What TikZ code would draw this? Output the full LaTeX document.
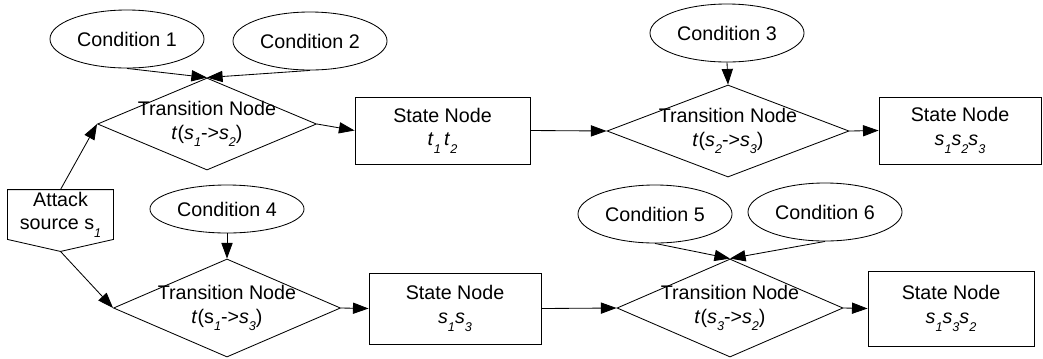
\documentclass[tikz,border=0pt]{standalone}
\usepackage{fontspec}
\setmainfont{Liberation Sans}
\usetikzlibrary{shapes,arrows.meta}
\newcommand{\sbs}[1]{\raisebox{-0.7ex}{\fontsize{9}{9}\selectfont\itshape #1}}

\begin{document}
\begin{tikzpicture}[x=0.025cm, y=-0.025cm, line width=0.6pt,
    font=\fontsize{14}{17}\selectfont,
    cond/.style={ellipse, draw, inner sep=0pt, minimum width=3.85cm, minimum height=1.45cm},
    trans/.style={diamond, draw, inner sep=0pt},
    state/.style={rectangle, draw, align=center, inner sep=0pt},
    txt/.style={align=center, inner sep=0pt},
    conn/.style={-{Triangle[length=3.9mm,width=2.8mm]}}]
\useasboundingbox (0,0) rectangle (1043,358);
% conditions
\node[cond] (c1) at (127,39) {Condition 1};
\node[cond] (c2) at (310,41) {Condition 2};
\node[cond] (c3) at (727,33) {Condition 3};
\node[cond, minimum height=1.2cm] (c4) at (227,209) {Condition 4};
\node[cond] (c5) at (655,214) {Condition 5};
\node[cond] (c6) at (825,212) {Condition 6};
% transition nodes
\node[trans, minimum width=5.475cm, minimum height=2.3cm] (t1) at (207,124) {};
\node[txt] (t1txt) at (t1) {Transition Node\\\textit{t}(\textit{s}\sbs{1}->\textit{s}\sbs{2})};
\node[trans, minimum width=6.05cm, minimum height=2.3cm] (t2) at (728,131) {};
\node[txt] (t2txt) at (t2) {Transition Node\\\textit{t}(\textit{s}\sbs{2}->\textit{s}\sbs{3})};
\node[trans, minimum width=5.675cm, minimum height=2.45cm] (t3) at (227,308) {};
\node[txt] (t3txt) at (t3) {Transition Node\\\textit{t}(s\sbs{1}->\textit{s}\sbs{3})};
\node[trans, minimum width=5.65cm, minimum height=2.45cm] (t4) at (730,308) {};
\node[txt] (t4txt) at (t4) {Transition Node\\\textit{t}(\textit{s}\sbs{3}->\textit{s}\sbs{2})};
% state nodes
\node[state, minimum width=4.375cm, minimum height=1.675cm] (s1) at (442.5,130.5) {State Node\\\textit{t}\sbs{1}\,\textit{t}\sbs{2}};
\node[state, minimum width=4.05cm, minimum height=1.675cm] (s2) at (960,130.5) {State Node\\\textit{s}\sbs{1}\textit{s}\sbs{2}\textit{s}\sbs{3}};
\node[state, minimum width=4.3cm, minimum height=1.775cm] (s3) at (455,308.5) {State Node\\\textit{s}\sbs{1}\textit{s}\sbs{3}};
\node[state, minimum width=4.15cm, minimum height=1.875cm] (s4) at (951,308.5) {State Node\\\textit{s}\sbs{1}\textit{s}\sbs{3}\textit{s}\sbs{2}};
% attack source
\node[txt, minimum width=2.625cm, minimum height=1.225cm] (src) at (60.5,214.5) {Attack\\source s\sbs{1}};
\coordinate (tip) at ([yshift=-0.3cm]src.south);
\draw (src.north west) -- (src.north east) -- (src.south east) -- (tip) -- (src.south west) -- cycle;
% connectors
\draw[conn] (c1.south) -- (t1.north);
\draw[conn] (c2.south) -- (t1.north);
\draw[conn] (c3.south) -- (t2.north);
\draw[conn] (c4.south) -- (t3.north);
\draw[conn] (c5.south) -- (t4.north);
\draw[conn] (c6.south) -- (t4.north);
\draw[conn] (src.north) -- (t1.west);
\draw[conn] (tip) -- (t3.west);
\draw[conn] (t1.east) -- (s1.west);
\draw[conn] (s1.east) -- (t2.west);
\draw[conn] (t2.east) -- (s2.west);
\draw[conn] (t3.east) -- (s3.west);
\draw[conn] (s3.east) -- (t4.west);
\draw[conn] (t4.east) -- (s4.west);
\end{tikzpicture}
\end{document}
